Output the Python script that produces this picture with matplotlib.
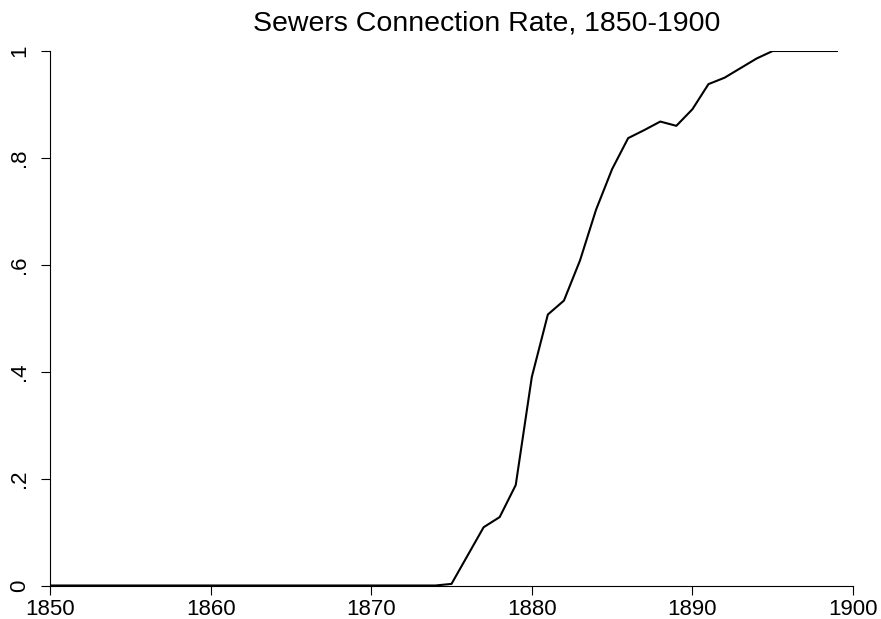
import matplotlib
matplotlib.use("Agg")
import matplotlib.pyplot as plt

# sewer connection rate by year
years = list(range(1850, 1900))
rate = [0.0] * 24 + [
    0.0, 0.003, 0.056, 0.109, 0.128, 0.188, 0.390,   # 1874-1880
    0.507, 0.533, 0.608, 0.703, 0.779, 0.837, 0.852,  # 1881-1887
    0.868, 0.860, 0.891, 0.938, 0.950, 0.968, 0.986,  # 1888-1894
    1.0, 1.0, 1.0, 1.0, 1.0,                          # 1895-1899
]
xticks = [1850, 1860, 1870, 1880, 1890, 1900]
yticks = [0, 0.2, 0.4, 0.6, 0.8, 1.0]
ylabels = ["0", ".2", ".4", ".6", ".8", "1"]

plt.rcParams['font.family'] = ['Liberation Sans', 'DejaVu Sans']

fig = plt.figure(figsize=(8.81, 6.19), dpi=100)
ax = fig.add_axes([50 / 881, 1 - 585.5 / 619, 803 / 881, 534.5 / 619])
ax.plot(years, rate, color='black', linewidth=1.5)

ax.set_xlim(1850, 1900)
ax.set_ylim(0, 1)
ax.set_xticks(xticks)
ax.set_yticks(yticks)
ax.set_yticklabels(ylabels, rotation=90, va='center')
ax.tick_params(axis='both', labelsize=16, length=6.5, width=0.8, direction='out')
ax.tick_params(axis='x', pad=3)
ax.tick_params(axis='y', pad=8)
ax.spines['top'].set_visible(False)
ax.spines['right'].set_visible(False)
for s in ('left', 'bottom'):
    ax.spines[s].set_linewidth(0.8)

fig.text(487 / 881, 1 - 24 / 619, "Sewers Connection Rate, 1850-1900",
         ha='center', va='center', fontsize=20.5)

fig.savefig("out.png", dpi=100)
